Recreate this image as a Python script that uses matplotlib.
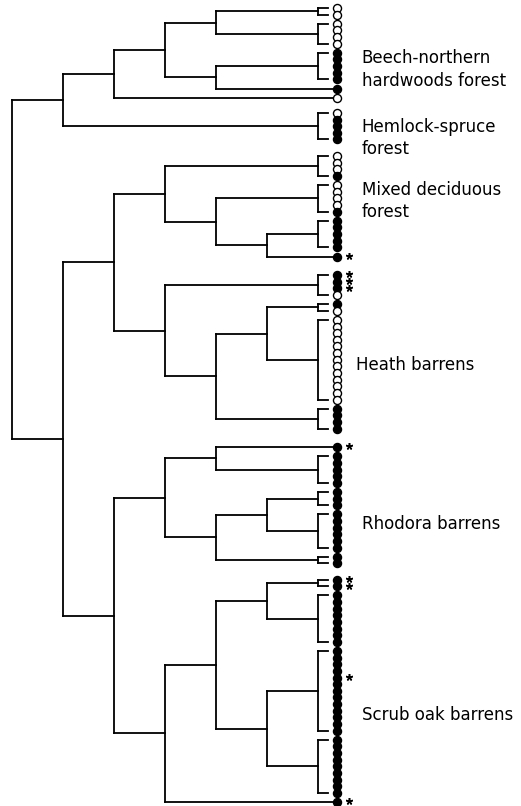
import matplotlib
matplotlib.use("Agg")
import matplotlib.pyplot as plt

W, H = 521, 806

# leaf states per terminal cluster: o = open circle, f = filled, s = filled + asterisk
beech_1 = "oo"
beech_2 = "oooo"
beech_3 = "fffff"
beech_4 = "f"
beech_5 = "o"
hemlock = "offff"
mixed_1 = "ooof"
mixed_2 = "oooof"
mixed_3 = "fffff"
mixed_4 = "s"
heath_1 = "ssso"
heath_2 = "fo"
heath_3 = "ooooooooooooo"
heath_4 = "ffff"
rhodora_1 = "s"
rhodora_2 = "fffff"
rhodora_3 = "fff"
rhodora_4 = "ffffff"
rhodora_5 = "ff"
scrub_1 = "ss"
scrub_2 = "ffffffff"
scrub_3 = "ffffsffffffff"
scrub_4 = "fffffffff"
scrub_5 = "s"

group_labels = ["Beech-northern\nhardwoods forest", "Hemlock-spruce\nforest",
                "Mixed deciduous\nforest", "Heath barrens",
                "Rhodora barrens", "Scrub oak barrens"]

# tree: nested pairs, leaves are (group index, cluster)
tree = [
    [[[[(0, beech_1), (0, beech_2)], [(0, beech_3), (0, beech_4)]], (0, beech_5)],
     (1, hemlock)],
    [[[(2, mixed_1), [(2, mixed_2), [(2, mixed_3), (2, mixed_4)]]],
      [(3, heath_1), [[(3, heath_2), (3, heath_3)], (3, heath_4)]]],
     [[[(4, rhodora_1), (4, rhodora_2)], [[(4, rhodora_3), (4, rhodora_4)], (4, rhodora_5)]],
      [[[(5, scrub_1), (5, scrub_2)], [(5, scrub_3), (5, scrub_4)]], (5, scrub_5)]]],
]

# layout (styling, not data)
ROOT_PX, LEVEL_PX = 12, 51
BRACKET_X = 6.0
TICK_X = 6.2
LEAF_X = 6.37
STAR_X = 6.6
CLUSTER_GAP = 0.38
group_gap = [1.3, 1.5, 1.8, 1.8, 1.45]
label_dy = [2.5, 1.8, -0.8, 2.0, 2.8, 3.6]
label_x = [6.86, 6.86, 6.86, 6.74, 6.86, 6.86]
LW = 1.3

leaves = []          # (slot, state)
group_slots = {}
state = {"slot": None, "group": None}
segments = []


def place(node, depth):
    """returns (x where parent's horizontal ends, y)"""
    if isinstance(node, tuple):
        grp, cl = node
        ys = []
        for i, ch in enumerate(cl):
            if state["slot"] is None:
                state["slot"] = 0.0
            elif i > 0:
                state["slot"] += 1
            elif grp != state["group"]:
                state["slot"] += 1 + group_gap[grp - 1]
            else:
                state["slot"] += 1 + CLUSTER_GAP
            leaves.append((state["slot"], ch))
            group_slots.setdefault(grp, []).append(state["slot"])
            ys.append(state["slot"])
        state["group"] = grp
        if len(ys) == 1:
            return LEAF_X - 0.06, ys[0]
        segments.append(((BRACKET_X, BRACKET_X), (ys[0], ys[-1])))
        segments.append(((BRACKET_X, TICK_X), (ys[0], ys[0])))
        segments.append(((BRACKET_X, TICK_X), (ys[-1], ys[-1])))
        return BRACKET_X, (ys[0] + ys[-1]) / 2
    kids = [place(c, depth + 1) for c in node]
    segments.append(((depth, depth), (kids[0][1], kids[1][1])))
    for kx, ky in kids:
        segments.append(((depth, kx), (ky, ky)))
    return depth, (kids[0][1] + kids[1][1]) / 2


place(tree, 0)
span = leaves[-1][0]
s = (802 - 8) / span

fig = plt.figure(figsize=(W / 100, H / 100), dpi=100)
ax = fig.add_axes([0, 0, 1, 1])
ax.set_xlim(-ROOT_PX / LEVEL_PX, (W - ROOT_PX) / LEVEL_PX)
ax.set_ylim((H - 8) / s, -8 / s)
ax.axis("off")

for xs, ys in segments:
    ax.plot(xs, ys, color="black", lw=LW, solid_capstyle="projecting")

for y, st in leaves:
    ax.plot(LEAF_X, y, marker="o", ms=5.8, mew=1.0, mec="black",
            mfc="white" if st == "o" else "black")
    if st == "s":
        ax.plot(STAR_X, y - 0.1, marker=(5, 2, 0), ms=5, mew=1.1, color="black")

for g, lab in enumerate(group_labels):
    ys = group_slots[g]
    yc = (ys[0] + ys[-1]) / 2 + label_dy[g]
    ax.text(label_x[g], yc, lab, fontsize=12, family="DejaVu Sans",
            va="center", ha="left", linespacing=1.3)

fig.savefig("out.png", dpi=100)
